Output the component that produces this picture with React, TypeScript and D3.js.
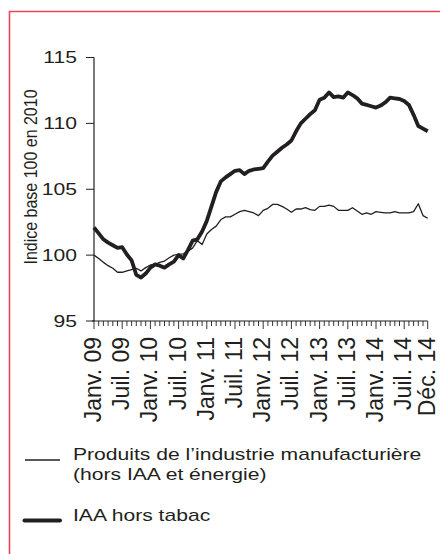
import React, { useEffect, useRef } from 'react'
import * as d3 from 'd3'

// monthly index values, Jan 2009 .. Dec 2014 (72 months)
const manufactures = [
  100.0, 99.75, 99.45, 99.2, 99.0, 98.7, 98.7, 98.8, 98.9, 99.0, 98.8, 99.05,
  99.25, 99.3, 99.45, 99.55, 99.8, 100.0, 100.05, 100.1, 100.3, 100.55, 101.1, 100.8,
  101.6, 101.95, 102.2, 102.7, 102.9, 102.9, 103.1, 103.3, 103.4, 103.3, 103.2, 103.0,
  103.4, 103.55, 103.85, 103.85, 103.7, 103.5, 103.25, 103.5, 103.5, 103.6, 103.45, 103.4,
  103.7, 103.7, 103.8, 103.7, 103.4, 103.4, 103.4, 103.6, 103.35, 103.1, 103.2, 103.1,
  103.3, 103.25, 103.2, 103.2, 103.3, 103.2, 103.2, 103.2, 103.3, 103.9, 103.0, 102.8,
]

const iaa = [
  102.1, 101.65, 101.2, 100.95, 100.75, 100.55, 100.6, 100.05, 99.6, 98.5, 98.3, 98.6,
  99.05, 99.3, 99.2, 99.05, 99.3, 99.5, 100.0, 99.75, 100.4, 101.1, 101.2, 101.8,
  102.6, 103.7, 104.8, 105.6, 105.9, 106.15, 106.4, 106.45, 106.15, 106.4, 106.5, 106.55,
  106.6, 107.1, 107.55, 107.85, 108.15, 108.4, 108.7, 109.4, 110.0, 110.35, 110.7, 111.0,
  111.8, 111.95, 112.35, 112.0, 112.05, 111.95, 112.35, 112.15, 111.9, 111.5, 111.4, 111.3,
  111.2, 111.35, 111.6, 111.95, 111.9, 111.85, 111.7, 111.4, 110.65, 109.8, 109.6, 109.4,
]

const xLabels = ['Janv. 09', 'Juil. 09', 'Janv. 10', 'Juil. 10', 'Janv. 11', 'Juil. 11',
  'Janv. 12', 'Juil. 12', 'Janv. 13', 'Juil. 13', 'Janv. 14', 'Juil. 14', 'Déc. 14']
const xLabelMonths = [0, 6, 12, 18, 24, 30, 36, 42, 48, 54, 60, 66, 71]
const yTicks = [95, 100, 105, 110, 115]

const legendItems = [
  { lines: ['Produits de l\u2019industrie manufacturière', '(hors IAA et énergie)'], width: 1.3 },
  { lines: ['IAA hors tabac'], width: 4 },
]

const INK = '#231f20'
const FONT = 'Arial, "Liberation Sans", sans-serif'
const STRETCH = 1.28

export default function App() {
  const svgRef = useRef<SVGSVGElement | null>(null)

  useEffect(() => {
    const svg = d3.select(svgRef.current)
    svg.selectAll('*').remove()

    const x = d3.scaleLinear().domain([0, 71]).range([94, 427.7])
    const y = d3.scaleLinear().domain([95, 115]).range([321, 57.5])

    // frame (only top and left edges visible)
    svg.append('path')
      .attr('d', 'M9.5,554 L9.5,11.5 L440,11.5')
      .attr('fill', 'none')
      .attr('stroke', '#e8475f')
      .attr('stroke-width', 1.6)

    const g = svg.append('g')

    // y axis
    g.append('line')
      .attr('x1', x(0)).attr('x2', x(0))
      .attr('y1', y(115)).attr('y2', y(95))
      .attr('stroke', INK).attr('stroke-width', 1.2)

    g.selectAll('.ytick')
      .data(yTicks)
      .enter()
      .append('line')
      .attr('x1', x(0) - 8).attr('x2', x(0))
      .attr('y1', d => y(d)).attr('y2', d => y(d))
      .attr('stroke', INK).attr('stroke-width', 1)

    g.selectAll('.ylabel')
      .data(yTicks)
      .enter()
      .append('text')
      .attr('transform', d => `translate(77,${y(d)}) scale(${STRETCH},1)`)
      .attr('dy', '0.35em')
      .attr('text-anchor', 'end')
      .attr('font-family', FONT)
      .attr('font-size', 16.5)
      .attr('fill', INK)
      .text(d => d)

    g.append('text')
      .attr('transform', 'translate(31,177) scale(1.12,1) rotate(-90)')
      .attr('dy', '0.35em')
      .attr('text-anchor', 'middle')
      .attr('font-family', FONT)
      .attr('font-size', 16)
      .attr('fill', INK)
      .text('Indice base 100 en 2010')

    // x axis
    g.append('line')
      .attr('x1', x(0) - 2).attr('x2', x(71))
      .attr('y1', y(95)).attr('y2', y(95))
      .attr('stroke', INK).attr('stroke-width', 1.2)

    g.selectAll('.xtick')
      .data(d3.range(72))
      .enter()
      .append('line')
      .attr('x1', d => x(d)).attr('x2', d => x(d))
      .attr('y1', y(95))
      .attr('y2', d => y(95) + (d % 6 === 0 || d === 71 ? 8 : 5))
      .attr('stroke', INK).attr('stroke-width', 0.9)

    g.selectAll('.xlabel')
      .data(xLabels)
      .enter()
      .append('text')
      .attr('transform', (d, i) => `translate(${x(xLabelMonths[i]) - 1},337) rotate(-90)`)
      .attr('dy', '0.35em')
      .attr('text-anchor', 'end')
      .attr('font-family', FONT)
      .attr('font-size', 23)
      .attr('fill', INK)
      .text(d => d)

    // series
    const line = d3.line<number>()
      .x((d, i) => x(i))
      .y(d => y(d))

    g.append('path')
      .datum(manufactures)
      .attr('d', line)
      .attr('fill', 'none')
      .attr('stroke', INK)
      .attr('stroke-width', 1.3)
      .attr('stroke-linejoin', 'round')

    g.append('path')
      .datum(iaa)
      .attr('d', line)
      .attr('fill', 'none')
      .attr('stroke', INK)
      .attr('stroke-width', 3.8)
      .attr('stroke-linejoin', 'round')

    // legend
    const legendY = [460, 520.5]
    legendItems.forEach((item, k) => {
      const ly = legendY[k]
      g.append('line')
        .attr('x1', k === 0 ? 25 : 24.5).attr('x2', 60)
        .attr('y1', ly).attr('y2', ly)
        .attr('stroke', INK)
        .attr('stroke-width', item.width)
        .attr('stroke-linecap', k === 0 ? 'butt' : 'round')
      item.lines.forEach((t, j) => {
        g.append('text')
          .attr('transform', `translate(73,${ly + j * 19.5}) scale(${STRETCH + 0.04},1)`)
          .attr('font-family', FONT)
          .attr('font-size', 16)
          .attr('fill', INK)
          .text(t)
      })
    })
  }, [])

  return (
    <svg
      ref={svgRef}
      width={440}
      height={554}
      style={{ position: 'absolute', left: 0, top: 0, background: '#fff' }}
    />
  )
}
